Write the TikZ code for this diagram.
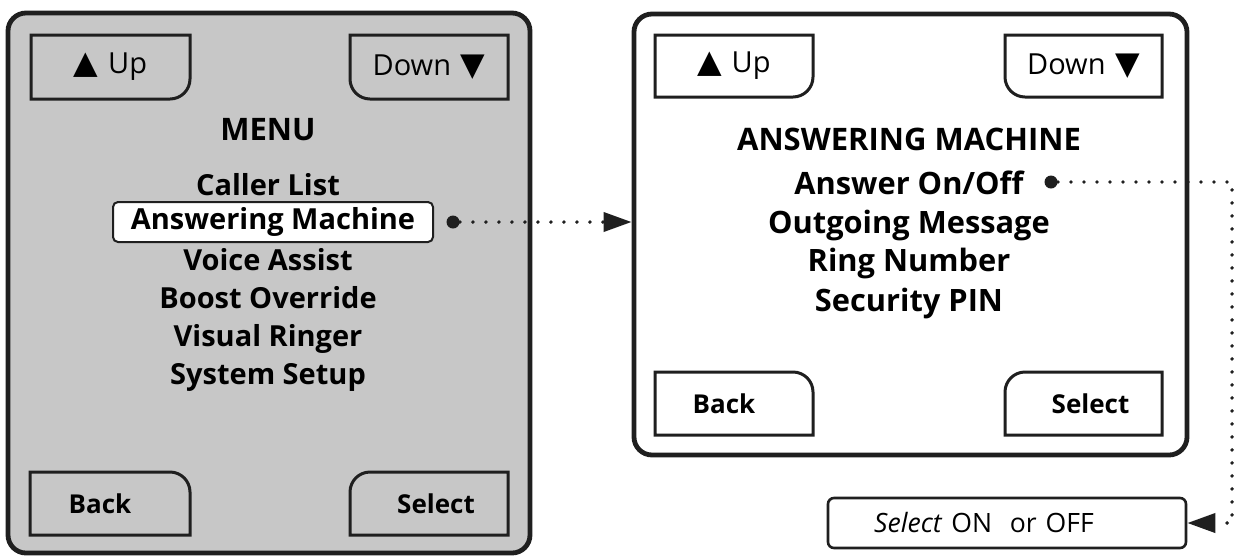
\documentclass[tikz,border=0pt]{standalone}
\usepackage{fontspec}
\setmainfont{Open Sans}
\newfontfamily\symfont{DejaVu Sans}
\usetikzlibrary{arrows.meta,positioning,calc}
\tikzset{
  ph/.style={x=0.5pt, y=-0.5pt},
  ph screen/.style={draw=black!88, line width=2.4pt, rounded corners=9pt, inner sep=0pt},
  ph key/.style={draw=black!88, line width=1.5pt},
  ph keytext/.style={font=\fontsize{14.5}{16}\selectfont, inner sep=0pt},
  ph keybold/.style={font=\fontsize{13}{15}\selectfont\bfseries, inner sep=0pt},
  ph head/.style={font=\fontsize{15.5}{18}\selectfont\bfseries, text height=11pt, text depth=0pt, inner sep=0pt},
  ph item/.style={font=\fontsize{14.5}{17}\selectfont\bfseries, text height=10.5pt, text depth=3pt, inner sep=0pt},
  ph item2/.style={ph item, font=\fontsize{15.4}{18}\selectfont\bfseries},
  ph pick/.style={ph item, draw=black!88, line width=1pt, fill=white, rounded corners=2.5pt,
                  minimum width=160pt, minimum height=20pt},
  ph opt/.style={draw=black!88, line width=1.3pt, rounded corners=3pt, minimum width=179pt,
                 minimum height=25pt, inner sep=0pt, font=\fontsize{13.3}{15}\selectfont},
  ph dot/.style={circle, fill=black!88, inner sep=0pt, minimum size=6.5pt},
  ph link/.style={black!88, line width=1.9pt, line cap=round, dash pattern=on 0pt off 6.5pt,
                  -{Triangle[length=14pt, width=9.5pt]}},
}
% keys with one rounded corner: name, x1, y1, x2, y2, style, text
\newcommand{\keyse}[7]{%
  \draw[ph key] (#2,#3) -- (#4,#3) -- (#4,#5-20) .. controls (#4,#5-9) and (#4-9,#5) .. (#4-20,#5) -- (#2,#5) -- cycle;
  \node[#6] (#1) at ({(#2+#4)/2},{(#3+#5)/2}) {#7};}
\newcommand{\keysw}[7]{%
  \draw[ph key] (#4,#3) -- (#4,#5) -- (#2+20,#5) .. controls (#2+9,#5) and (#2,#5-9) .. (#2,#5-20) -- (#2,#3) -- cycle;
  \node[#6] (#1) at ({(#2+#4)/2},{(#3+#5)/2}) {#7};}
\newcommand{\keyne}[7]{%
  \draw[ph key] (#2,#5) -- (#2,#3) -- (#4-20,#3) .. controls (#4-9,#3) and (#4,#3+9) .. (#4,#3+20) -- (#4,#5) -- cycle;
  \node[#6] (#1) at ({(#2+#4)/2-10},{(#3+#5)/2}) {#7};}
\newcommand{\keynw}[7]{%
  \draw[ph key] (#4,#5) -- (#4,#3) -- (#2+20,#3) .. controls (#2+9,#3) and (#2,#3+9) .. (#2,#3+20) -- (#2,#5) -- cycle;
  \node[#6] (#1) at ({(#2+#4)/2+7},{(#3+#5)/2}) {#7};}

\begin{document}
\begin{tikzpicture}[ph]
\useasboundingbox (0,0) rectangle (1237,559);
% ---- main menu screen ----
\node[ph screen, fill=black!22, minimum width=261pt, minimum height=270pt] (menu) at (269,283) {};
\keyse{mup}{31}{35}{190}{99}{ph keytext}{{\symfont\fontsize{16}{16}\selectfont ▲}\,\,Up}
\keysw{mdown}{350}{35}{508}{99}{ph keytext}{Down\,\,{\symfont\fontsize{16}{16}\selectfont ▼}}
\keyne{mback}{30}{472}{190}{535}{ph keybold}{Back}
\keynw{msel}{350}{472}{508}{535}{ph keybold}{Select}
\node[ph head] (mtitle) at (268,129) {MENU};
\node[ph item] (m1) at (268,188) {Caller List};
\node[ph pick] (m2) at (273,222) {Answering Machine};
\node[ph item] (m3) at (268,263) {Voice Assist};
\node[ph item] (m4) at (268,301) {Boost Override};
\node[ph item] (m5) at (268,339) {Visual Ringer};
\node[ph item] (m6) at (268,377) {System Setup};
% ---- answering machine screen ----
\node[ph screen, fill=white, minimum width=276.5pt, minimum height=220.5pt] (sub) at (910.5,234.5) {};
\keyse{sup}{655}{35}{813}{97}{ph keytext}{{\symfont\fontsize{16}{16}\selectfont ▲}\,\,Up}
\keysw{sdown}{1005}{35}{1162}{97}{ph keytext}{Down\,\,{\symfont\fontsize{16}{16}\selectfont ▼}}
\keyne{sback}{655}{372}{813}{435}{ph keybold}{Back}
\keynw{ssel}{1005}{372}{1162}{435}{ph keybold}{Select}
\node[ph head] (stitle) at (909,139) {ANSWERING MACHINE};
\node[ph item2] (s1) at (909,187) {Answer On/Off};
\node[ph item2] (s2) at (909,226) {Outgoing Message};
\node[ph item2] (s3) at (909,264) {Ring Number};
\node[ph item2] (s4) at (909,304) {Security PIN};
% ---- choice box ----
\node[ph opt, text width=179pt, align=center] (opt) at (1007,523) {\hspace*{-23pt}\textit{Select} ON\ \ or OFF};
% ---- links ----
\node[ph dot] (d1) at (453,222) {};
\draw[ph link] (d1) -- (d1 -| sub.west);
\node[ph dot] (d2) at (1051,182) {};
\coordinate (turn) at (1232,182);
\draw[ph link] (d2) -- (turn) |- (opt.east);
\end{tikzpicture}
\end{document}
